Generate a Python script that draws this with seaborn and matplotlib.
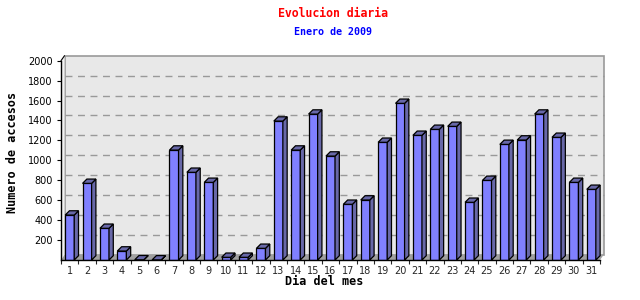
import matplotlib
matplotlib.use("Agg")
import matplotlib.pyplot as plt
import seaborn as sns
import pandas as pd
import numpy as np
from matplotlib.patches import Polygon, Rectangle

days = [str(d) for d in range(1, 32)]
accesos = [451, 769, 318, 90, 2, 1, 1103, 880, 779, 27, 27, 117, 1394, 1103,
           1464, 1043, 559, 602, 1181, 1572, 1251, 1311, 1341, 579, 799, 1160,
           1204, 1464, 1231, 779, 709]
yticks = [200, 400, 600, 800, 1000, 1200, 1400, 1600, 1800, 2000]
title = "Evolucion diaria"
subtitle = "Enero de 2009"
xlabel = "Dia del mes"
ylabel = "Numero de accesos"

df = pd.DataFrame({"dia": days, "accesos": accesos})

sns.set_style("white")
plt.rcParams["font.family"] = ["DejaVu Sans"]

W, H = 640, 300
fig = plt.figure(figsize=(6.4, 3.0), dpi=100)
L, R, B, T = 61, 600, 260, 60.7
ax = fig.add_axes([L / W, 1 - B / H, (R - L) / W, (B - T) / H])
ax.set_xlim(-0.5, 30.5)
ax.set_ylim(0, 2000)
ax.patch.set_visible(False)

pxx = (R - L) / 31.0          # pixels per x unit
pxy = (B - T) / 2000.0        # pixels per y unit
# wall depth offsets (data units)
wdx, wdy = 3.5 / pxx, 5.0 / pxy
# bar depth offsets
bdx, bdy = 4.3 / pxx, 4.3 / pxy

x0, x1 = -0.5, 30.5
wall_c = "#e8e8e8"
edge_c = "#999999"
# back wall
ax.add_patch(Rectangle((x0 + wdx, wdy), x1 - x0, 2000, facecolor=wall_c,
                       edgecolor=edge_c, linewidth=1.2, zorder=0, clip_on=False))
# left wall
ax.add_patch(Polygon([(x0, 0), (x0 + wdx, wdy), (x0 + wdx, 2000 + wdy), (x0, 2000)],
                     closed=True, facecolor="#f2f2f2", edgecolor="none", zorder=0.5,
                     clip_on=False))
ax.plot([x0, x0 + wdx], [2000, 2000 + wdy], color="black", lw=0.8, zorder=3, clip_on=False)
# gridlines on back wall
for v in yticks[:-1]:
    ax.plot([x0 + wdx, x1 + wdx], [v + wdy, v + wdy], color="#999999", lw=1.0,
            dashes=(5, 4), zorder=0.8, clip_on=False)
# floor
ax.add_patch(Polygon([(x0, 0), (x1, 0), (x1 + wdx, wdy), (x0 + wdx, wdy)], closed=True,
                     facecolor="#a0a0a0", edgecolor="none", zorder=1, clip_on=False))

sns.barplot(data=df, x="dia", y="accesos", color="#8080ff", saturation=1,
            edgecolor="black", linewidth=0.9, width=0.52, ax=ax, zorder=2)

side_c = "#6868a8"
for p in list(ax.patches):
    if not isinstance(p, Rectangle) or p.get_width() > 1:
        continue
    if p.get_zorder() != 2:
        continue
    xa = p.get_x()
    xb = xa + p.get_width()
    h = p.get_height()
    top = Polygon([(xa, h), (xb, h), (xb + bdx, h + bdy), (xa + bdx, h + bdy)], closed=True,
                  facecolor=side_c, edgecolor="black", linewidth=0.9, zorder=2.1, clip_on=False)
    side = Polygon([(xb, 0), (xb + bdx, bdy), (xb + bdx, h + bdy), (xb, h)], closed=True,
                   facecolor=side_c, edgecolor="black", linewidth=0.9, zorder=2.1, clip_on=False)
    ax.add_patch(side)
    ax.add_patch(top)

for s in ["top", "right"]:
    ax.spines[s].set_visible(False)
for s in ["left", "bottom"]:
    ax.spines[s].set_color("black")
    ax.spines[s].set_linewidth(1.0)
    ax.spines[s].set_zorder(3)

ax.set_yticks(yticks)
ax.set_yticklabels([str(v) for v in yticks])
ax.tick_params(axis="y", direction="out", length=3, width=0.8, pad=3,
               labelsize=7, left=True, colors="black")
ax.tick_params(axis="x", which="major", length=0, pad=4, labelsize=7, bottom=True)
ax.set_xticks(np.arange(-0.5, 31, 1.0), minor=True)
ax.tick_params(axis="x", which="minor", direction="out", length=3, width=0.8, bottom=True)
ax.set_xlabel("")
ax.set_ylabel("")

mono = ["DejaVu Sans Mono"]
fig.text(0.5 * (L + 604) / W + 0.0, 1 - 13.5 / H, title, color="red", ha="center",
         va="center", fontsize=8.3, fontweight="bold", family=mono)
fig.text(0.5 * (L + 604) / W, 1 - 32 / H, subtitle, color="blue", ha="center",
         va="center", fontsize=7.2, fontweight="bold", family=mono)
fig.text(324 / W, 1 - 281.5 / H, xlabel, color="black", ha="center", va="center",
         fontsize=8.5, fontweight="bold", family=mono)
fig.text(13 / W, 1 - 152 / H, ylabel, color="black", ha="center", va="center",
         rotation=90, fontsize=8.5, fontweight="bold", family=mono)

fig.savefig("out.png", dpi=100)
